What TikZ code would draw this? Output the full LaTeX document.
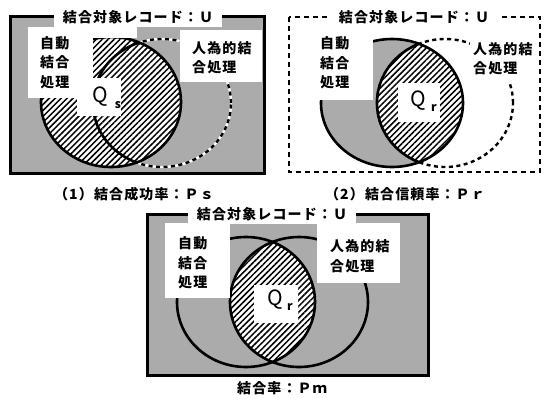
\documentclass[tikz,border=0pt]{standalone}
\usepackage{fontspec}
\newfontfamily\jp[LetterSpace=8]{Noto Sans CJK JP}
\newfontfamily\jpq{Noto Sans CJK JP}
\usetikzlibrary{patterns.meta}
\tikzset{
  stip/.style={fill=black!33},
  hatch/.style={pattern={Lines[angle=45,distance=4.2pt,line width=1.5pt]}},
  ring/.style={line width=2.6pt},
  dashring/.style={line width=2.4pt,dash pattern=on 4pt off 3.5pt},
  dashunder/.style={line width=2.4pt,draw=white},
  frame/.style={line width=3pt},
  dframe/.style={line width=2.6pt,dash pattern=on 5pt off 4pt},
  ttl/.style={font=\jp\bfseries\fontsize{14}{16}\selectfont, fill=white, inner xsep=9pt, inner ysep=3pt},
  lbl/.style={font=\jp\bfseries\fontsize{14}{19.5}\selectfont, align=left, anchor=west, inner sep=0pt},
  captxt/.style={font=\jp\bfseries\fontsize{14}{16}\selectfont, inner sep=0pt},
  qlbl/.style={font=\jpq\fontsize{21}{21}\selectfont, inner sep=0pt},
  qsub/.style={font=\jpq\bfseries\fontsize{12}{12}\selectfont, inner sep=0pt},
}
\begin{document}
\begin{tikzpicture}[x=1pt,y=-1pt]
\useasboundingbox (0,0) rectangle (544,397);
% ---------- panel 1 ----------
\fill[stip] (10,16) rectangle (264,173);
\draw[dashunder] (162,103) ellipse [x radius=69pt, y radius=64pt];
\draw[dashring] (162,103) ellipse [x radius=69pt, y radius=64pt];
\fill[white] (111,102) ellipse [x radius=70pt, y radius=65pt];
\fill[hatch] (111,102) ellipse [x radius=70pt, y radius=65pt];
\begin{scope}
  \clip (111,102) ellipse [x radius=70pt, y radius=65pt];
  \draw[ring] (162,103) ellipse [x radius=69pt, y radius=64pt];
\end{scope}
\draw[ring] (111,102) ellipse [x radius=70pt, y radius=65pt];
\fill[white] (28,27) rectangle (93,98);
\fill[white] (93,27) rectangle (137,38.3);
\fill[white] (77,78) rectangle (121,116);
\fill[white] (180,30) rectangle (262,82);
\draw[frame] (10,16) rectangle (264,173);
\node[ttl] (t1) at (138,17) {結合対象レコード：Ｕ};
\node[lbl] (a1) at (40,62.5) {自動\\結合\\処理};
\node[lbl] (h1) at (192,57.5) {人為的結\\合処理};
\node[qlbl] (q1) at (100,97) {Q};
\node[qsub] (q1s) at (118,105) {s};
\node[captxt] (c1) at (134,194) {（1）結合成功率：Ｐｓ};
% ---------- panel 2 ----------
\fill[stip] (392,103) ellipse [x radius=71pt, y radius=64pt];
\draw[dashring] (445,103) ellipse [x radius=68pt, y radius=64pt];
\begin{scope}
  \clip (392,103) ellipse [x radius=71pt, y radius=64pt];
  \fill[white] (445,103) ellipse [x radius=68pt, y radius=64pt];
  \fill[hatch] (445,103) ellipse [x radius=68pt, y radius=64pt];
  \draw[ring] (445,103) ellipse [x radius=68pt, y radius=64pt];
\end{scope}
\draw[ring] (392,103) ellipse [x radius=71pt, y radius=64pt];
\fill[white] (300,27) rectangle (373,100);
\fill[white] (398,83) rectangle (440,122);
\fill[white] (470,28) rectangle (538,82);
\draw[dframe] (289,17) rectangle (540,172);
\node[ttl] (t2) at (414,17) {結合対象レコード：Ｕ};
\node[lbl] (a2) at (320,63) {自動\\結合\\処理};
\node[lbl] (h2) at (473,58.5) {人為的結\\合処理};
\node[qlbl] (q2) at (418,101) {Q};
\node[qsub] (q2s) at (434,108) {r};
\node[captxt] (c2) at (405,194) {（2）結合信頼率：Ｐｒ};
% ---------- panel 3 ----------
\fill[stip] (147,214) rectangle (428,375);
\begin{scope}
  \clip (246,302) ellipse [x radius=69pt, y radius=65pt];
  \fill[white] (299,302) ellipse [x radius=69pt, y radius=65pt];
  \fill[hatch] (299,302) ellipse [x radius=69pt, y radius=65pt];
\end{scope}
\draw[ring] (246,302) ellipse [x radius=69pt, y radius=65pt];
\draw[ring] (299,302) ellipse [x radius=69pt, y radius=65pt];
\fill[white] (165,223) rectangle (230,298);
\fill[white] (317,223) rectangle (400,283);
\fill[white] (254,285) rectangle (298,323);
\draw[frame] (147,214) rectangle (428,375);
\node[ttl] (t3) at (272,214) {結合対象レコード：Ｕ};
\node[lbl] (a3) at (178,263) {自動\\結合\\処理};
\node[lbl] (h3) at (330,256) {人為的結\\合処理};
\node[qlbl] (q3) at (275,300) {Q};
\node[qsub] (q3s) at (290,307) {r};
\node[captxt] (c3) at (282,388) {結合率：Ｐｍ};
\end{tikzpicture}
\end{document}
